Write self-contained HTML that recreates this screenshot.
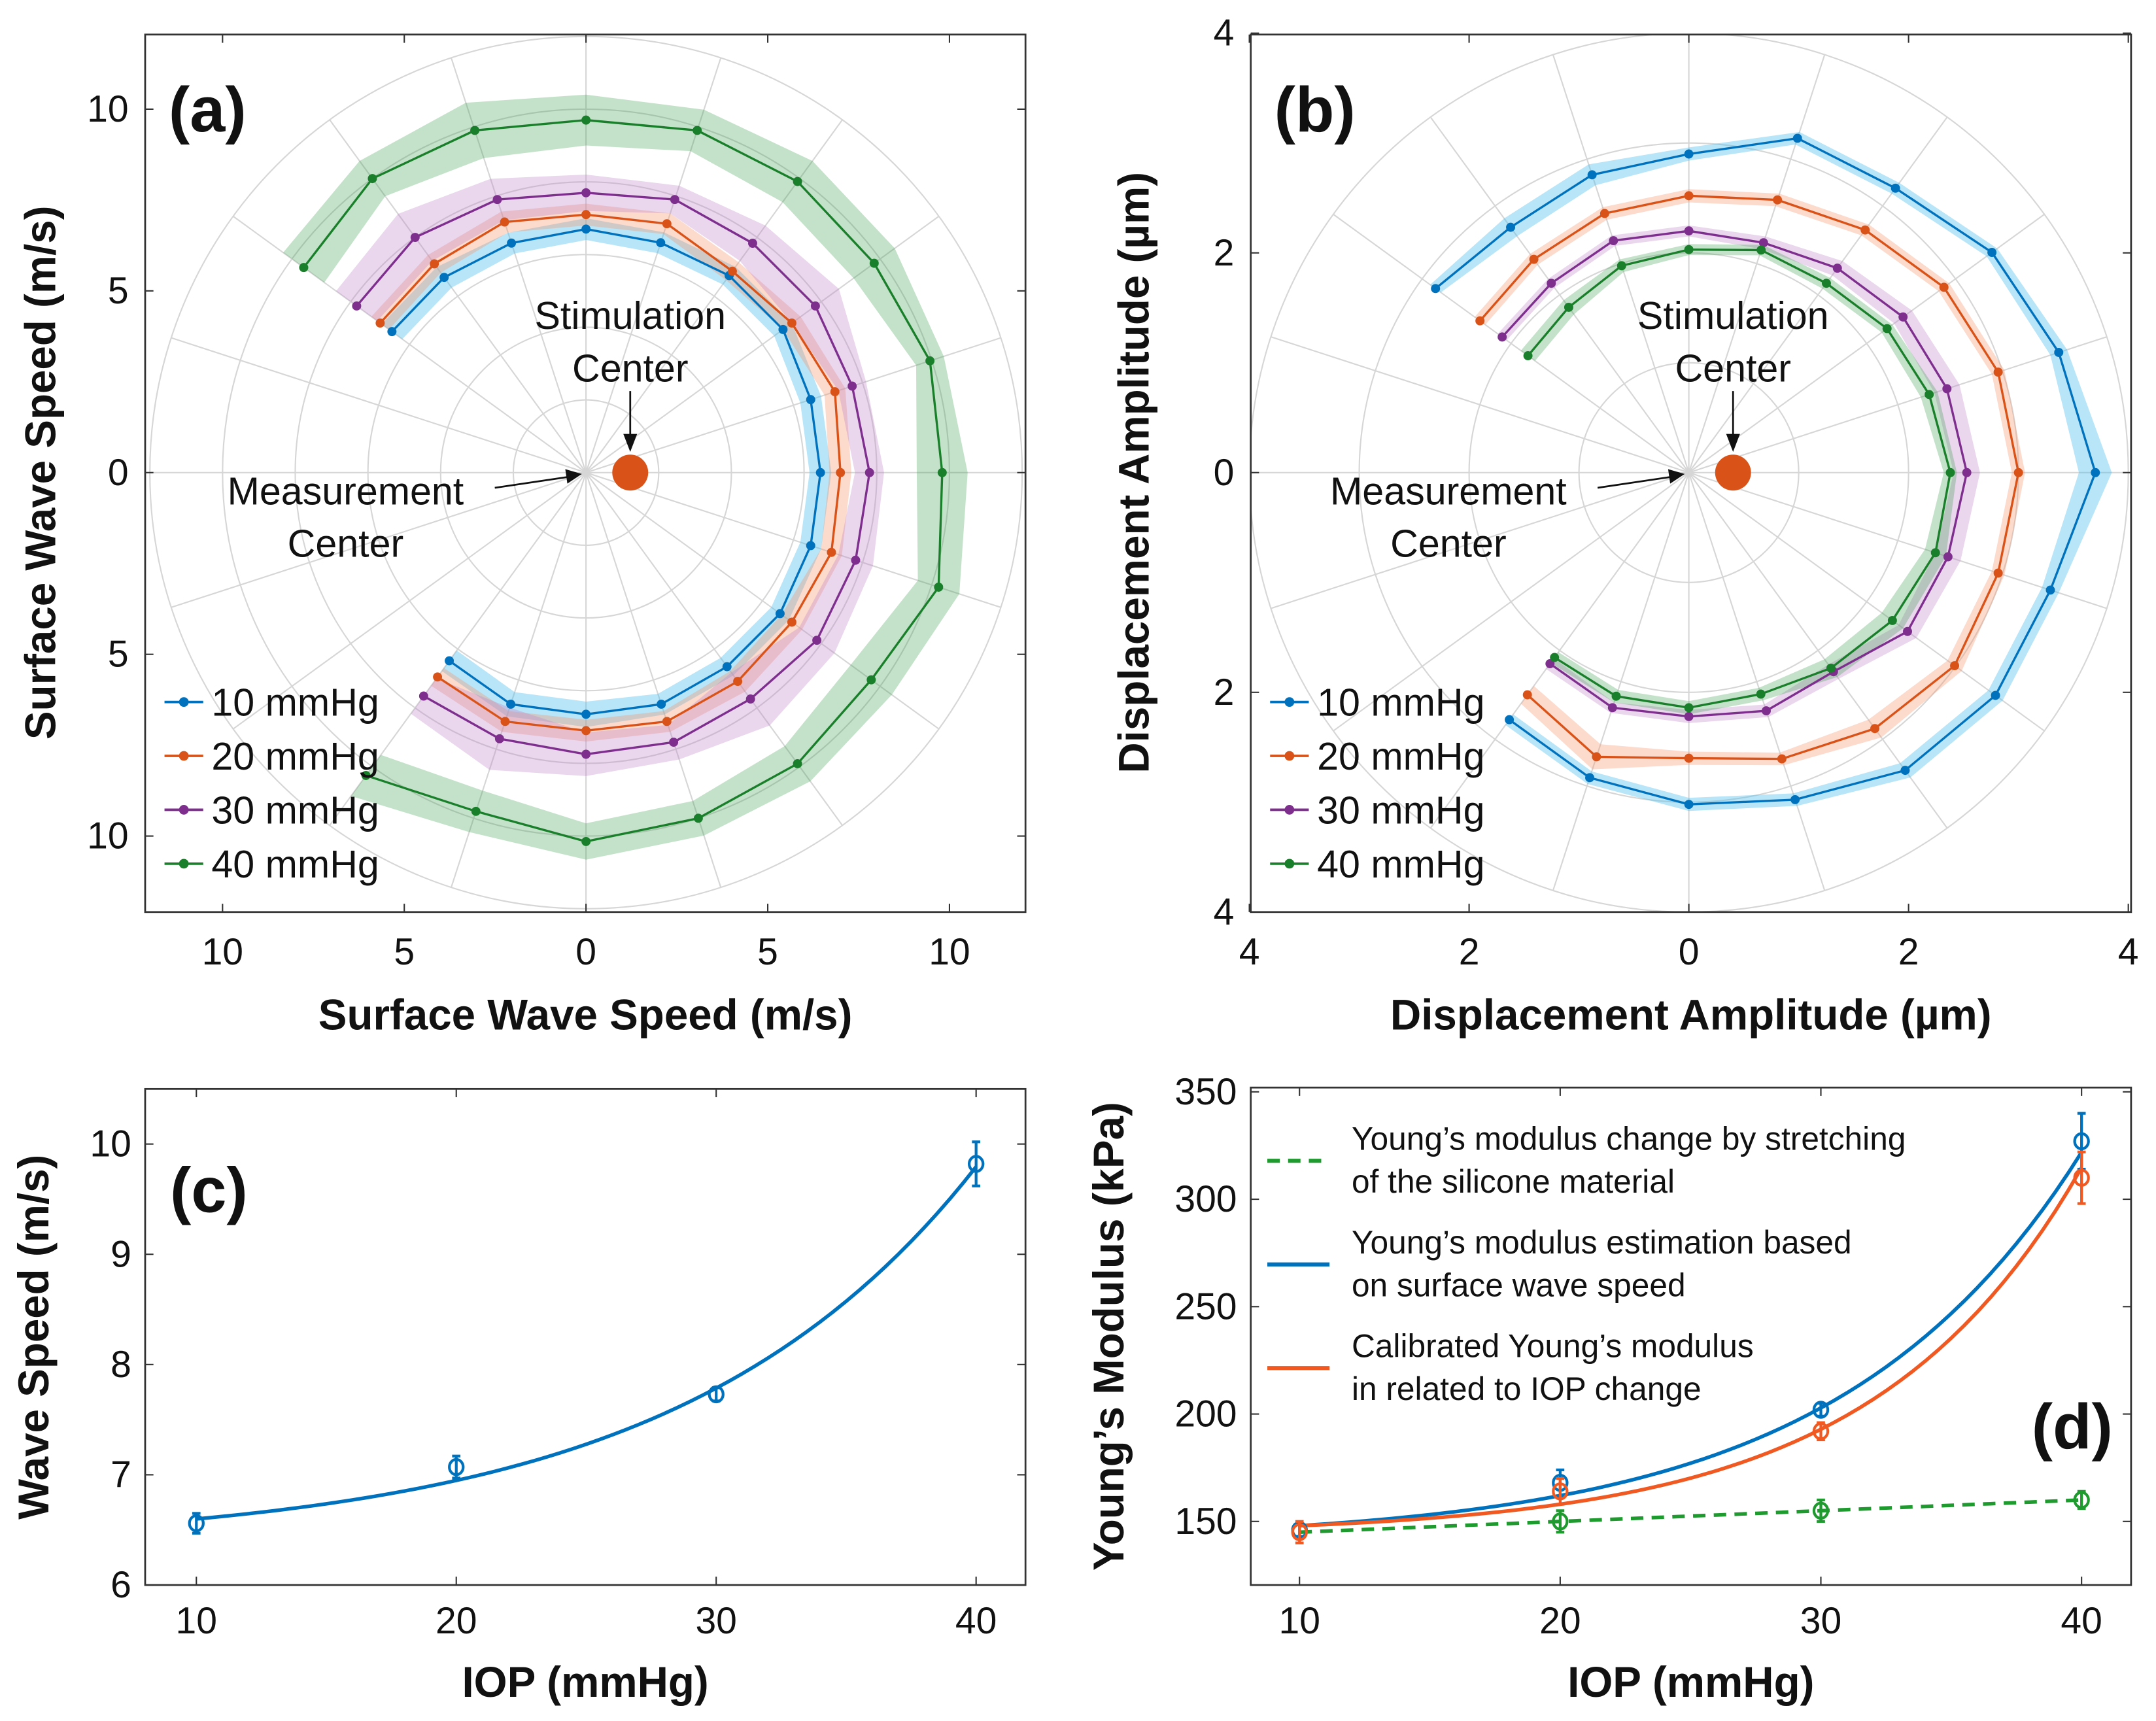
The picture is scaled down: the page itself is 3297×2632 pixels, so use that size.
<!DOCTYPE html>
<html><head><meta charset="utf-8">
<style>
html,body{margin:0;padding:0;background:#fff;}
svg{display:block;}
text{font-family:"Liberation Sans",Arial,sans-serif;}
</style></head>
<body>
<svg id="fig" width="3297" height="2632" viewBox="0 0 1560 1245.4" xmlns="http://www.w3.org/2000/svg">
<rect x="0" y="0" width="1560" height="1245.4" fill="#fff"/>
</svg>
<script>
// ---------- Data ----------
const polarAngles = [-126,-108,-90,-72,-54,-36,-18,0,18,36,54,72,90,108,126,144];
const seriesLabels = ["10 mmHg","20 mmHg","30 mmHg","40 mmHg"];
// panel (a) surface wave speed (m/s)
const speed10 = [6.4,6.7,6.65,6.7,6.6,6.6,6.5,6.45,6.5,6.7,6.7,6.65,6.7,6.64,6.64,6.6];
const speed20 = [6.95,7.2,7.1,7.2,7.1,7.0,7.1,7.0,7.2,7.0,6.85,7.2,7.1,7.25,7.1,7.0];
const speed30 = [7.6,7.7,7.75,7.8,7.7,7.85,7.8,7.8,7.7,7.8,7.8,7.9,7.7,7.9,8.0,7.8];
const speed40 = [10.3,9.8,10.15,10.0,9.9,9.7,10.2,9.8,9.95,9.8,9.9,9.9,9.7,9.9,10.0,9.6];
const speedErr10 = [0.35,0.35,0.35,0.3,0.3,0.3,0.3,0.3,0.3,0.3,0.3,0.3,0.3,0.3,0.35,0.35];
const speedErr20 = [0.3,0.3,0.3,0.3,0.35,0.35,0.3,0.3,0.3,0.3,0.3,0.3,0.3,0.3,0.3,0.3];
const speedErr30 = [0.6,0.9,0.6,0.5,0.9,0.6,0.5,0.4,0.4,0.8,0.6,0.4,0.5,0.6,0.8,0.7];
const speedErr40 = [0.7,0.6,0.5,0.5,0.6,0.7,0.6,0.7,0.4,0.7,0.7,0.6,0.7,0.8,0.6,0.7];
// panel (b) displacement amplitude (um)
const disp10 = [2.78,2.92,3.02,3.13,3.35,3.45,3.46,3.7,3.54,3.41,3.2,3.2,2.9,2.85,2.76,2.85];
const disp20 = [2.5,2.72,2.6,2.74,2.88,2.99,2.96,3.0,2.96,2.87,2.73,2.61,2.52,2.48,2.4,2.35];
const disp30 = [2.15,2.25,2.22,2.28,2.24,2.46,2.48,2.53,2.47,2.41,2.3,2.2,2.2,2.22,2.13,2.1];
const disp40 = [2.08,2.14,2.14,2.12,2.2,2.29,2.36,2.38,2.3,2.23,2.13,2.13,2.03,1.98,1.86,1.81];
const dispErr10 = [0.06,0.06,0.06,0.06,0.08,0.08,0.08,0.15,0.08,0.06,0.06,0.06,0.06,0.1,0.1,0.06];
const dispErr20 = [0.1,0.12,0.06,0.06,0.1,0.08,0.06,0.06,0.06,0.06,0.06,0.06,0.06,0.06,0.06,0.06];
const dispErr30 = [0.06,0.05,0.06,0.06,0.08,0.1,0.12,0.12,0.12,0.1,0.08,0.06,0.05,0.05,0.05,0.05];
const dispErr40 = [0.06,0.06,0.06,0.06,0.1,0.12,0.1,0.06,0.08,0.06,0.06,0.05,0.05,0.06,0.08,0.08];
// panel (c)
const iop = [10,20,30,40];
const waveSpeed = [6.56,7.07,7.73,9.82];
const waveSpeedErr = [0.09,0.1,0.06,0.2];
const waveFit = [6.35,0.104,0.0875]; // a + b*exp(c*x)
const cYTicks = [6,7,8,9,10];
// panel (d)
const ymEst = [146,168,202,327];
const ymEstErr = [3,6,3,13];
const ymCal = [145,164,192,310];
const ymCalErr = [5,6,4,12];
const ymStretch = [146,150,155,160];
const ymStretchErr = [3,5,5,4];
const ymEstFit = [140.7,2.508,0.107];
const ymCalFit = [144,1.15,0.125];
const ymStretchFit = [140,0.5];
const dYTicks = [150,200,250,300,350];
const xTicks = [10,20,30,40];

// ---------- helpers ----------
const NS="http://www.w3.org/2000/svg";
const svg=document.getElementById('fig');
function el(tag,attrs,parent,txt){const e=document.createElementNS(NS,tag);for(const k in attrs)e.setAttribute(k,attrs[k]);if(txt!==undefined)e.textContent=txt;(parent||svg).appendChild(e);return e;}
const colors=["#0072BD","#D95319","#7E2F8E","#1A7F2A"];
const fills=["rgba(77,190,238,0.4)","rgba(245,150,110,0.35)","rgba(190,130,200,0.33)","rgba(60,160,80,0.3)"];

function polarPanel(id,cx,cy,box,pxPerUnit,rMax,rStep,series,errs,ticks,tickLbl,xlabel,ylabel,letter,ylOff){
  const g=el('g',{},svg);
  
  
  const clipId=id+'-clip';
  const cp=el('clipPath',{id:clipId},g);
  el('rect',{x:box[0],y:box[1],width:box[2]-box[0],height:box[3]-box[1]},cp);
  const grid=el('g',{'clip-path':'url(#'+clipId+')',stroke:'#d6d6d6','stroke-width':1,fill:'none'},g);
  
  
  for(let r=rStep;r<=rMax+1e-9;r+=rStep) el('circle',{cx:cx,cy:cy,r:r*pxPerUnit},grid);
  for(let a=0;a<360;a+=18){const t=a*Math.PI/180;el('line',{x1:cx,y1:cy,x2:cx+rMax*pxPerUnit*Math.cos(t),y2:cy-rMax*pxPerUnit*Math.sin(t)},grid);}
  const P=(r,a)=>{const t=a*Math.PI/180;return [cx+r*pxPerUnit*Math.cos(t),cy-r*pxPerUnit*Math.sin(t)];};
  series.forEach((s,i)=>{
    const up=s.map((v,j)=>P(v+errs[i][j],polarAngles[j]));
    const lo=s.map((v,j)=>P(v-errs[i][j],polarAngles[j])).reverse();
    const band=el('polygon',{points:up.concat(lo).map(p=>p.join(',')).join(' '),fill:fills[i],stroke:'none'},g);
    
    
  });
  series.forEach((s,i)=>{
    const pts=s.map((v,j)=>P(v,polarAngles[j]));
    const ln=el('polyline',{points:pts.map(p=>p.join(',')).join(' '),fill:'none',stroke:colors[i],'stroke-width':1.6},g);
    
    
    pts.forEach(p=>{const m=el('circle',{cx:p[0],cy:p[1],r:3.3,fill:colors[i]},g);
      
      });
  });
  const bx=el('rect',{x:box[0],y:box[1],width:box[2]-box[0],height:box[3]-box[1],fill:'none',stroke:'#333','stroke-width':1.3},g);
  
  
  ticks.forEach((t,k)=>{
    const x=cx+t*pxPerUnit, y=cy-t*pxPerUnit;
    el('line',{x1:x,y1:box[3],x2:x,y2:box[3]-6,stroke:'#333'},g);
    el('line',{x1:x,y1:box[1],x2:x,y2:box[1]+6,stroke:'#333'},g);
    el('line',{x1:box[0],y1:y,x2:box[0]+6,y2:y,stroke:'#333'},g);
    el('line',{x1:box[2],y1:y,x2:box[2]-6,y2:y,stroke:'#333'},g);
    const tx=el('text',{x:x,y:box[3]+38,'font-size':27,'text-anchor':'middle',fill:'#111'},g,tickLbl[k]);
    
    
    const ty=el('text',{x:box[0]-12,y:y+9,'font-size':27,'text-anchor':'end',fill:'#111'},g,tickLbl[k]);
    
    
  });
  const xl=el('text',{x:(box[0]+box[2])/2,y:745,'font-size':31,'font-weight':'bold','text-anchor':'middle',fill:'#111'},g,xlabel);
  
  
  const yx=box[0]-ylOff;
  const yl=el('text',{x:yx,y:cy,'font-size':31,'font-weight':'bold','text-anchor':'middle',fill:'#111',transform:'rotate(-90 '+yx+' '+cy+')'},g,ylabel);
  
  
  const lt=el('text',{x:box[0]+17,y:95,'font-size':46,'font-weight':'bold',fill:'#111'},g,letter);
  
  
  const sx=cx+32;
  const s1=el('text',{x:sx,y:238,'font-size':28,'text-anchor':'middle',fill:'#111'},g,'Stimulation');
  
  
  el('text',{x:sx,y:276,'font-size':28,'text-anchor':'middle',fill:'#111'},g,'Center');
  el('line',{x1:sx,y1:283,x2:sx,y2:318,stroke:'#111','stroke-width':1.3},g);
  el('polygon',{points:`${sx-5},314 ${sx+5},314 ${sx},327`,fill:'#111'},g);
  const dot=el('circle',{cx:sx,cy:cy,r:13,fill:'#D95319'},g);
  
  
  const mx=cx-174;
  const m1=el('text',{x:mx,y:365,'font-size':28,'text-anchor':'middle',fill:'#111'},g,'Measurement');
  
  
  el('text',{x:mx,y:403,'font-size':28,'text-anchor':'middle',fill:'#111'},g,'Center');
  el('line',{x1:cx-66,y1:353,x2:cx-12,y2:345,stroke:'#111','stroke-width':1.3},g);
  el('polygon',{points:`${cx-3},343 ${cx-15},339.5 ${cx-13.5},350`,fill:'#111'},g);
  seriesLabels.forEach((lab,i)=>{
    const y=508+i*39, x0=box[0]+14;
    const lg=el('g',{},g);
    
    
    el('line',{x1:x0,y1:y,x2:x0+28,y2:y,stroke:colors[i],'stroke-width':1.8},lg);
    el('circle',{cx:x0+14,cy:y,r:3.5,fill:colors[i]},lg);
    el('text',{x:x0+34,y:y+10,'font-size':28,fill:'#111'},lg,lab);
  });
}
polarPanel('panel-a',424,342,[105,25,742,660],26.3,12,2,[speed10,speed20,speed30,speed40],[speedErr10,speedErr20,speedErr30,speedErr40],[-10,-5,0,5,10],['10','5','0','5','10'],'Surface Wave Speed (m/s)','Surface Wave Speed (m/s)','(a)',65);
polarPanel('panel-b',1222,342,[905,25,1542,660],79.5,4,1,[disp10,disp20,disp30,disp40],[dispErr10,dispErr20,dispErr30,dispErr40],[-4,-2,0,2,4],['4','2','0','2','4'],'Displacement Amplitude  (\u00b5m)','Displacement Amplitude  (\u00b5m)','(b)',74);

// ---------- cartesian panels ----------
function cart(id,box,xr,yr,yticks,ylabel,letter,letterPos,ylOff){
  const g=el('g',{},svg);
  
  
  const X=v=>box[0]+(v-xr[0])/(xr[1]-xr[0])*(box[2]-box[0]);
  const Y=v=>box[3]-(v-yr[0])/(yr[1]-yr[0])*(box[3]-box[1]);
  const bx=el('rect',{x:box[0],y:box[1],width:box[2]-box[0],height:box[3]-box[1],fill:'none',stroke:'#333','stroke-width':1.3},g);
  
  
  xTicks.forEach(t=>{const x=X(t);
    el('line',{x1:x,y1:box[3],x2:x,y2:box[3]-6,stroke:'#333'},g);
    el('line',{x1:x,y1:box[1],x2:x,y2:box[1]+6,stroke:'#333'},g);
    const tx=el('text',{x:x,y:box[3]+35,'font-size':27,'text-anchor':'middle',fill:'#111'},g,String(t));
    
    });
  yticks.forEach(t=>{const y=Y(t);
    el('line',{x1:box[0],y1:y,x2:box[0]+6,y2:y,stroke:'#333'},g);
    el('line',{x1:box[2],y1:y,x2:box[2]-6,y2:y,stroke:'#333'},g);
    const ty=el('text',{x:box[0]-10,y:y+9,'font-size':27,'text-anchor':'end',fill:'#111'},g,String(t));
    
    });
  const xl=el('text',{x:(box[0]+box[2])/2,y:1228,'font-size':31,'font-weight':'bold','text-anchor':'middle',fill:'#111'},g,'IOP (mmHg)');
  
  
  const yx=box[0]-ylOff, yc=(box[1]+box[3])/2;
  const yl=el('text',{x:yx,y:yc,'font-size':31,'font-weight':'bold','text-anchor':'middle',fill:'#111',transform:'rotate(-90 '+yx+' '+yc+')'},g,ylabel);
  
  
  const lt=el('text',{x:letterPos[0],y:letterPos[1],'font-size':46,'font-weight':'bold',fill:'#111'},g,letter);
  
  
  return {g,X,Y};
}
function curve(ax,fn,color,dash,name){
  let d='';for(let x=10;x<=40.001;x+=0.5){d+=(d?'L':'M')+ax.X(x).toFixed(2)+','+ax.Y(fn(x)).toFixed(2);}
  const p=el('path',{d:d,fill:'none',stroke:color,'stroke-width':2.6,'stroke-dasharray':dash||'none'},ax.g);
  
  
}
function errPts(ax,vals,errs,color,name){
  vals.forEach((v,i)=>{
    const x=ax.X(iop[i]);
    const e=el('g',{stroke:color,'stroke-width':2,fill:'none'},ax.g);
    
    
    el('line',{x1:x,y1:ax.Y(v-errs[i]),x2:x,y2:ax.Y(v+errs[i])},e);
    el('line',{x1:x-3,y1:ax.Y(v-errs[i]),x2:x+3,y2:ax.Y(v-errs[i])},e);
    el('line',{x1:x-3,y1:ax.Y(v+errs[i]),x2:x+3,y2:ax.Y(v+errs[i])},e);
    el('ellipse',{cx:x,cy:ax.Y(v),rx:5,ry:5.5},e);
  });
}
const c=cart('panel-c',[105,788,742,1147],[8.03,41.9],[6,10.5],cYTicks,'Wave Speed (m/s)','(c)',[123,877],70);
curve(c,x=>waveFit[0]+waveFit[1]*Math.exp(waveFit[2]*x),'#0072BD',null,'fit-curve');
errPts(c,waveSpeed,waveSpeedErr,'#0072BD','data-point');

const d=cart('panel-d',[905,787,1542,1147],[8.13,41.9],[120.4,352],dYTicks,'Young\u2019s Modulus (kPa)','(d)',[1470,1048],92);
curve(d,x=>ymStretchFit[0]+ymStretchFit[1]*x,'#1E9A2E','9,6','stretch-fit');
curve(d,x=>ymEstFit[0]+ymEstFit[1]*Math.exp(ymEstFit[2]*x),'#0072BD',null,'estimation-fit');
curve(d,x=>ymCalFit[0]+ymCalFit[1]*Math.exp(ymCalFit[2]*x),'#F05A22',null,'calibrated-fit');
errPts(d,ymStretch,ymStretchErr,'#1E9A2E','stretch-point');
errPts(d,ymEst,ymEstErr,'#0072BD','estimation-point');
errPts(d,ymCal,ymCalErr,'#F05A22','calibrated-point');
const legD=[["#1E9A2E","9,6",840,["Young\u2019s modulus change by stretching","of the silicone material"]],
            ["#0072BD","none",915,["Young\u2019s modulus estimation based","on surface wave speed"]],
            ["#F05A22","none",990,["Calibrated Young\u2019s modulus","in related to IOP change"]]];
legD.forEach(l=>{
  const lg=el('g',{},d.g);
  
  
  el('line',{x1:917,y1:l[2],x2:962,y2:l[2],stroke:l[0],'stroke-width':3,'stroke-dasharray':l[1]},lg);
  el('text',{x:978,y:l[2]-8,'font-size':23.5,fill:'#111'},lg,l[3][0]);
  el('text',{x:978,y:l[2]+23,'font-size':23.5,fill:'#111'},lg,l[3][1]);
});
</script>
</body></html>
